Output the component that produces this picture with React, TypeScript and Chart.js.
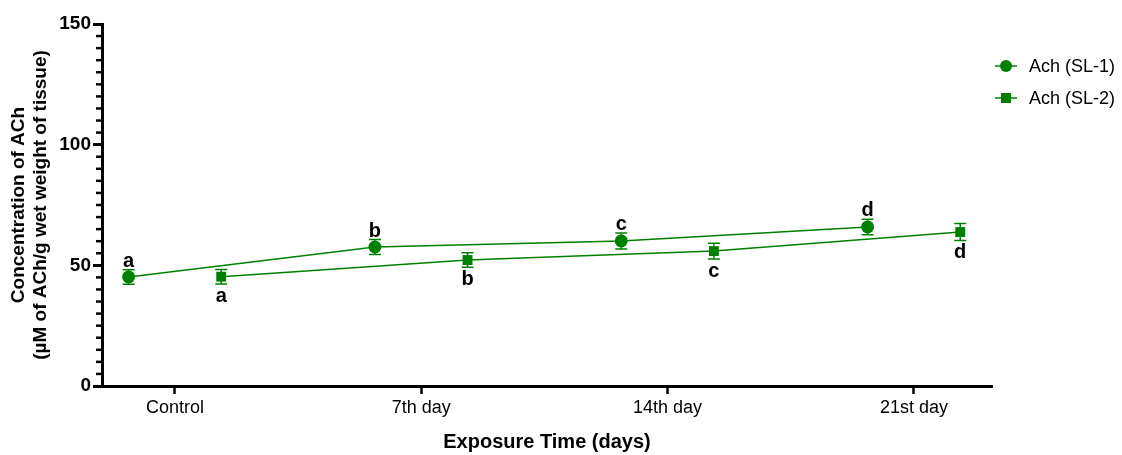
import React, { useEffect, useRef } from "react";
import { Chart, registerables } from "chart.js";

Chart.register(...registerables);

const CATEGORIES = ["Control", "7th day", "14th day", "21st day"];
const SERIES_LABELS = ["Ach (SL-1)", "Ach (SL-2)"];
const SL1_MEANS = [45.2, 57.6, 60.1, 65.9];
const SL2_MEANS = [45.3, 52.2, 55.9, 63.8];
const SL1_ERRORS = [3.0, 3.1, 3.3, 3.2];
const SL2_ERRORS = [3.0, 3.0, 3.3, 3.5];
const SL1_LETTERS = ["a", "b", "c", "d"];
const SL2_LETTERS = ["a", "b", "c", "d"];
const Y_TICKS = [0, 50, 100, 150];
const MINOR_STEP = 5;

const GREEN = "#008000";
const FONT = "'Liberation Sans', Arial, Helvetica, sans-serif";
const GROUP_OFFSET = 0.188;

const LETTER_POS = ["above", "below"];
const ERRORS = [SL1_ERRORS, SL2_ERRORS];
const LETTERS = [SL1_LETTERS, SL2_LETTERS];

const overlayPlugin = {
  id: "overlay",
  beforeDatasetsDraw(chart: any) {
    const { ctx } = chart;
    const xs = chart.scales.x;
    const ys = chart.scales.y;
    ctx.save();
    ctx.strokeStyle = GREEN;
    ctx.lineWidth = 1.5;
    chart.data.datasets.forEach((ds: any, di: number) => {
      ds.data.forEach((pt: any, i: number) => {
        const err = ERRORS[di][i];
        const px = xs.getPixelForValue(pt.x);
        const yTop = ys.getPixelForValue(pt.y + err);
        const yBot = ys.getPixelForValue(pt.y - err);
        ctx.beginPath();
        ctx.moveTo(px, yTop);
        ctx.lineTo(px, yBot);
        ctx.moveTo(px - 6, yTop);
        ctx.lineTo(px + 6, yTop);
        ctx.moveTo(px - 6, yBot);
        ctx.lineTo(px + 6, yBot);
        ctx.stroke();
      });
    });
    ctx.restore();
  },
  afterDatasetsDraw(chart: any) {
    const { ctx, chartArea } = chart;
    const xs = chart.scales.x;
    const ys = chart.scales.y;
    ctx.save();
    // letters
    ctx.fillStyle = "#000";
    ctx.font = `bold 20px ${FONT}`;
    ctx.textAlign = "center";
    ctx.textBaseline = "alphabetic";
    chart.data.datasets.forEach((ds: any, di: number) => {
      ds.data.forEach((pt: any, i: number) => {
        const err = ERRORS[di][i];
        const px = xs.getPixelForValue(pt.x);
        if (LETTER_POS[di] === "above") {
          const yTop = ys.getPixelForValue(pt.y + err);
          ctx.fillText(LETTERS[di][i], px, yTop - 3);
        } else {
          const yBot = ys.getPixelForValue(pt.y - err);
          ctx.fillText(LETTERS[di][i], px, yBot + 18);
        }
      });
    });
    // minor ticks on y axis
    ctx.strokeStyle = "#000";
    ctx.lineWidth = 2.5;
    for (let v = 0; v <= ys.max; v += MINOR_STEP) {
      if (v % 50 === 0) continue;
      const py = ys.getPixelForValue(v);
      ctx.beginPath();
      ctx.moveTo(chartArea.left - 6, py);
      ctx.lineTo(chartArea.left, py);
      ctx.stroke();
    }
    // legend
    const legendX = 995;
    const legendY = [66, 98];
    chart.data.datasets.forEach((ds: any, di: number) => {
      const y = legendY[di];
      ctx.strokeStyle = GREEN;
      ctx.lineWidth = 1.5;
      ctx.beginPath();
      ctx.moveTo(legendX, y);
      ctx.lineTo(legendX + 22, y);
      ctx.stroke();
      ctx.fillStyle = GREEN;
      if (ds.pointStyle === "circle") {
        ctx.beginPath();
        ctx.arc(legendX + 11, y, 6, 0, Math.PI * 2);
        ctx.fill();
      } else {
        ctx.fillRect(legendX + 11 - 5, y - 5, 10, 10);
      }
      ctx.fillStyle = "#000";
      ctx.font = `18px ${FONT}`;
      ctx.textAlign = "left";
      ctx.textBaseline = "middle";
      ctx.fillText(ds.label, legendX + 34, y + 1);
    });
    ctx.restore();
  },
};

export default function App() {
  const canvasRef = useRef<HTMLCanvasElement | null>(null);

  useEffect(() => {
    if (!canvasRef.current) return;
    const mk = (means: number[], sign: number) =>
      means.map((m, i) => ({ x: i + sign * GROUP_OFFSET, y: m }));
    const chart = new Chart(canvasRef.current, {
      type: "line",
      data: {
        datasets: [
          {
            label: SERIES_LABELS[0],
            data: mk(SL1_MEANS, -1),
            borderColor: GREEN,
            backgroundColor: GREEN,
            borderWidth: 1.5,
            pointStyle: "circle",
            pointRadius: 6.5,
            pointBackgroundColor: GREEN,
            pointBorderColor: GREEN,
            pointBorderWidth: 0,
            tension: 0,
          },
          {
            label: SERIES_LABELS[1],
            data: mk(SL2_MEANS, 1),
            borderColor: GREEN,
            backgroundColor: GREEN,
            borderWidth: 1.5,
            pointStyle: "rect",
            pointRadius: 7,
            pointBackgroundColor: GREEN,
            pointBorderColor: GREEN,
            pointBorderWidth: 0,
            tension: 0,
          },
        ],
      },
      options: {
        animation: false,
        responsive: false,
        layout: { padding: { left: 0, right: 130, top: 24, bottom: 0 } },
        plugins: {
          legend: { display: false },
          tooltip: { enabled: false },
        },
        scales: {
          x: {
            type: "linear",
            min: -0.296,
            max: 3.317,
            afterBuildTicks: (scale: any) => {
              scale.ticks = CATEGORIES.map((_, i) => ({ value: i }));
            },
            afterFit: (scale: any) => {
              scale.height = 69;
            },
            ticks: {
              callback: (v: any) => CATEGORIES[Math.round(Number(v))] ?? "",
              font: { family: FONT, size: 18 },
              color: "#000",
              padding: 3,
              maxRotation: 0,
              autoSkip: false,
            },
            grid: {
              display: true,
              drawOnChartArea: false,
              drawTicks: true,
              tickLength: 8,
              tickWidth: 2.5,
              tickColor: "#000",
            },
            border: { display: true, color: "#000", width: 3 },
            title: {
              display: true,
              text: "Exposure Time (days)",
              font: { family: FONT, size: 20, weight: "bold" },
              color: "#000",
              padding: { top: 0, bottom: 1 },
            },
          },
          y: {
            type: "linear",
            min: 0,
            max: 150,
            afterBuildTicks: (scale: any) => {
              scale.ticks = Y_TICKS.map((v) => ({ value: v }));
            },
            afterFit: (scale: any) => {
              scale.width = 102;
            },
            ticks: {
              font: { family: FONT, size: 19, weight: "bold" },
              color: "#000",
              padding: 2,
            },
            grid: {
              display: true,
              drawOnChartArea: false,
              drawTicks: true,
              tickLength: 9,
              tickWidth: 3,
              tickColor: "#000",
            },
            border: { display: true, color: "#000", width: 3 },
            title: {
              display: true,
              text: ["Concentration of ACh", "(µM of ACh/g wet weight of tissue)"],
              font: { family: FONT, size: 19, weight: "bold", lineHeight: 1.2 },
              color: "#000",
              padding: { top: 7, bottom: 0 },
            },
          },
        },
      },
      plugins: [overlayPlugin],
    });
    return () => chart.destroy();
  }, []);

  return (
    <div style={{ position: "absolute", left: 0, top: 0, width: 1122, height: 455, background: "#fff" }}>
      <canvas ref={canvasRef} width={1122} height={455} style={{ display: "block", width: 1122, height: 455 }} />
    </div>
  );
}
